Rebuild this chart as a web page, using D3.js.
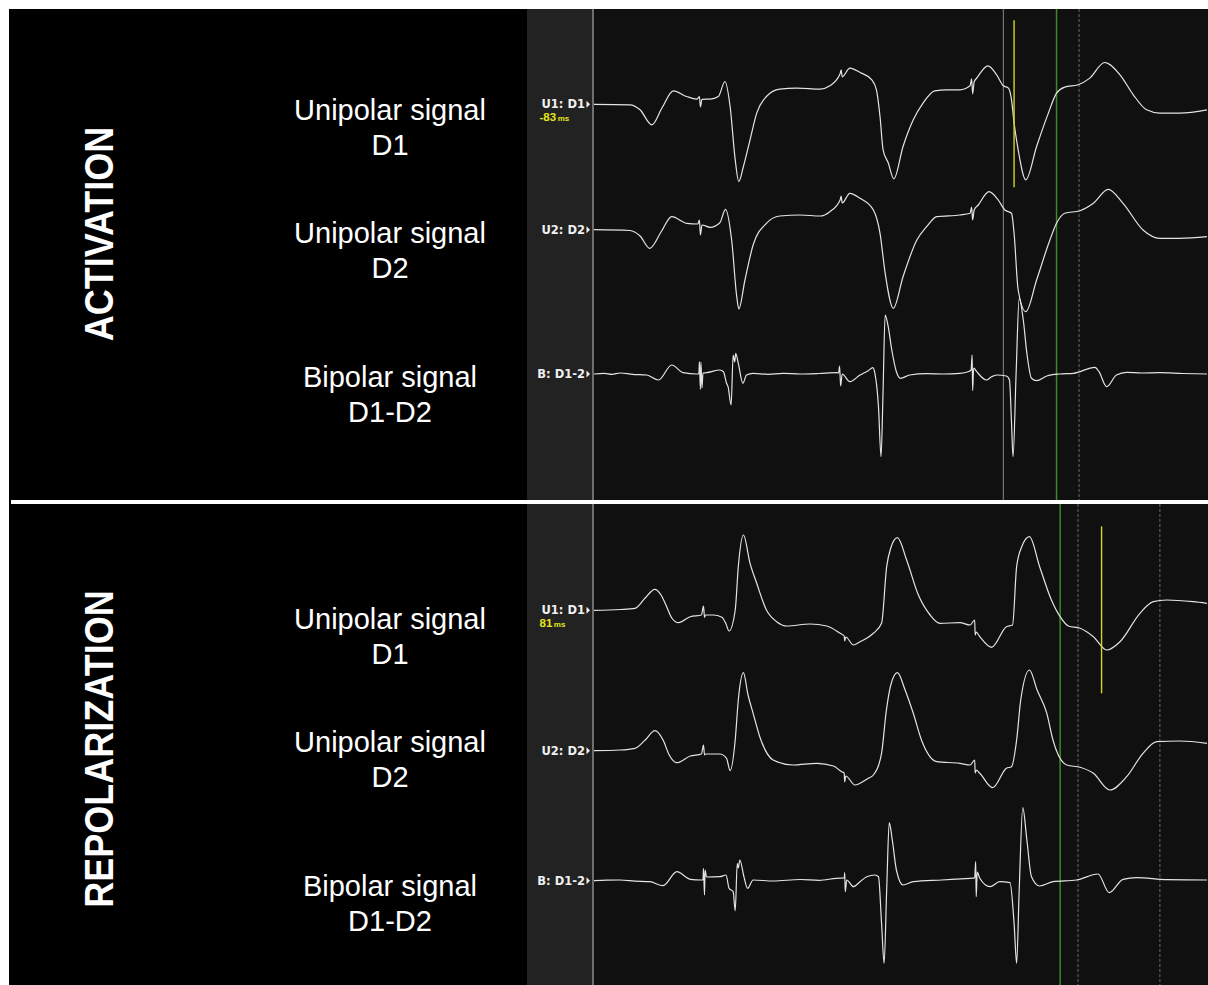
<!DOCTYPE html>
<html>
<head>
<meta charset="utf-8">
<script src="https://cdn.jsdelivr.net/npm/d3@7"></script>
<style>
  html, body { margin: 0; padding: 0; background: #ffffff; }
  svg { display: block; }
</style>
</head>
<body>
<svg id="chart" width="1208" height="985"></svg>
<script>
// ---- Electrogram samples: [time in ms from window start, potential in µV] ----

// Activation window
const actU1 = [[0,0],[70,-10],[90,-110],[113,-410],[133,-70],[155,270],[181,156],[201,104],[206,156],[208,-50],[211,100],[227,104],[243,156],[256,456],[266,-44],[276,-1110],[283,-1544],[292,-1244],[305,-710],[318,-176],[337,156],[363,304],[396,324],[442,304],[461,370],[481,610],[483,690],[485,550],[500,724],[520,636],[543,490],[552,290],[559,-244],[565,-910],[575,-1170],[586,-1490],[604,-844],[624,-310],[643,24],[666,270],[689,290],[715,290],[735,370],[738,510],[740,210],[743,450],[748,524],[770,770],[787,590],[800,370],[810,324],[816,90],[821,-370],[829,-910],[844,-1510],[865,-844],[888,-176],[904,224],[920,344],[946,390],[969,524],[998,836],[1028,590],[1054,190],[1080,-110],[1106,-176],[1145,-176],[1198,-110]];

const actU2 = [[0,0],[70,-16],[90,-126],[109,-372],[131,-46],[152,260],[181,128],[203,114],[206,194],[208,-106],[211,94],[227,48],[246,140],[257,408],[269,-206],[279,-1340],[283,-1586],[295,-1006],[311,-306],[337,128],[363,274],[403,294],[442,274],[461,360],[481,594],[483,674],[485,534],[500,728],[520,628],[546,394],[559,-72],[569,-866],[585,-1572],[604,-940],[631,-206],[650,60],[670,260],[715,294],[735,328],[738,454],[740,194],[743,394],[751,494],[772,760],[790,594],[803,394],[816,328],[821,-72],[829,-1206],[844,-1640],[865,-1006],[891,-206],[904,128],[920,328],[950,380],[976,528],[1005,808],[1034,528],[1073,-6],[1106,-172],[1145,-172],[1198,-140]];

const actB = [[0,0],[20,12],[35,-8],[51,20],[75,-6],[103,-20],[126,-120],[152,180],[174,26],[201,0],[205,0],[206,246],[208,-306],[209,240],[211,-280],[213,20],[220,26],[246,80],[253,46],[259,-186],[262,-254],[268,-620],[272,380],[275,240],[277,414],[282,214],[291,-186],[298,-20],[311,14],[340,-6],[370,12],[403,0],[440,10],[474,26],[478,20],[480,160],[482,-240],[485,0],[500,-154],[520,-20],[536,66],[545,126],[549,14],[556,-654],[561,-1654],[565,-320],[569,1180],[575,946],[582,480],[591,46],[599,-86],[617,-20],[650,6],[683,0],[715,14],[731,46],[737,80],[739,380],[740,-334],[742,120],[748,46],[767,-120],[777,-54],[787,-20],[806,-40],[812,-120],[816,-980],[819,-1654],[825,20],[831,1514],[839,1080],[846,414],[855,-86],[865,-134],[885,-40],[910,0],[937,14],[979,134],[987,46],[1002,-254],[1021,-20],[1041,34],[1070,20],[1106,26],[1150,10],[1198,0]];

// Repolarization window
const repU1 = [[0,0],[51,16],[80,40],[100,246],[119,420],[131,306],[142,72],[152,-154],[165,-248],[188,-128],[210,-94],[214,86],[216,-140],[218,-94],[233,-94],[250,-140],[258,-274],[264,-414],[276,6],[282,872],[292,1506],[305,940],[318,540],[337,6],[357,-228],[377,-314],[422,-274],[455,-314],[481,-460],[489,-514],[490,-614],[492,-534],[507,-694],[520,-628],[533,-560],[546,-460],[562,-260],[572,872],[580,1246],[593,1452],[611,1006],[634,306],[657,-94],[676,-260],[715,-248],[735,-294],[744,-194],[745,-494],[747,-434],[754,-528],[777,-740],[806,-328],[818,-294],[826,872],[836,1272],[851,1472],[871,872],[894,206],[911,-128],[927,-314],[950,-360],[976,-528],[1002,-794],[1028,-628],[1067,-60],[1093,172],[1119,206],[1171,172],[1198,140]];

const repU2 = [[0,0],[51,14],[80,48],[100,214],[119,400],[135,214],[147,-86],[162,-240],[188,-106],[210,-66],[214,114],[216,-86],[218,-66],[246,-66],[259,-152],[266,-400],[276,214],[282,1014],[292,1560],[301,1114],[311,748],[324,280],[350,-186],[389,-286],[435,-252],[468,-306],[484,-420],[489,-446],[490,-626],[492,-506],[510,-686],[520,-652],[536,-552],[546,-486],[562,-52],[571,774],[580,1314],[593,1560],[608,1214],[624,748],[640,214],[670,-220],[715,-252],[735,-286],[744,-186],[745,-446],[747,-386],[754,-452],[779,-740],[806,-352],[816,-320],[826,214],[834,1014],[851,1614],[866,1214],[885,748],[897,214],[924,-286],[950,-332],[976,-452],[1008,-786],[1041,-520],[1073,-52],[1100,180],[1145,194],[1198,148]];

const repB = [[0,0],[25,10],[51,14],[80,-8],[109,-20],[135,-100],[162,180],[188,28],[210,14],[213,14],[214,248],[216,-286],[217,214],[220,74],[246,80],[258,114],[264,-152],[272,-220],[276,-600],[280,348],[282,254],[285,414],[293,80],[300,-152],[311,14],[350,-6],[403,24],[440,8],[474,48],[489,54],[490,160],[491,-220],[494,14],[507,-120],[520,-20],[533,80],[549,114],[556,80],[562,-852],[567,-1652],[572,-186],[577,1160],[583,814],[591,214],[604,-86],[624,-20],[680,14],[735,48],[744,54],[746,380],[747,-320],[749,174],[754,48],[774,-120],[793,-20],[813,-40],[821,-852],[826,-1652],[831,-186],[838,1460],[846,814],[855,80],[871,-106],[897,-20],[943,14],[985,134],[1007,-240],[1034,28],[1060,60],[1120,20],[1198,14]];

const panelTitles = ["ACTIVATION", "REPOLARIZATION"];
const channelNames = ["U1: D1", "U2: D2", "B: D1-2"];
const rowTitles = [["Unipolar signal", "D1"], ["Unipolar signal", "D2"], ["Bipolar signal", "D1-D2"]];
const panelSeries = [[actU1, actU2, actB], [repU1, repU2, repB]];
const referenceTimes = [904, 911];          // green reference cursor (ms)
const markerValues = [-83, 81];              // annotated interval relative to reference (ms)
const auxCursors = [[800, 948], [946, 1106]]; // grey cursors (ms)

// ---- Layout ----
const svg = d3.select("#chart");
const W = 1208, H = 985;
const traceX0 = 594, traceX1 = 1208;
const stripX0 = 527;
const panels = [
  { y0: 9, y1: 500, baselines: [104.3, 229.7, 374], rowBase: [120, 243, 387], titleY: 234 },
  { y0: 504, y1: 985, baselines: [610.3, 750.7, 880.7], rowBase: [629, 752, 896], titleY: 749 }
];

const x = d3.scaleLinear().domain([0, 1200]).range([traceX0, traceX1]);

svg.append("rect").attr("width", W).attr("height", H).attr("fill", "#ffffff");
svg.append("rect").attr("x", 9).attr("y", 9).attr("width", W - 9).attr("height", H - 9).attr("fill", "#000000");

const line = d3.line().curve(d3.curveMonotoneX);

panels.forEach((p, pi) => {
  const g = svg.append("g");
  const clipId = "clip" + pi;
  svg.append("clipPath").attr("id", clipId)
    .append("rect").attr("x", traceX0).attr("y", p.y0).attr("width", traceX1 - traceX0).attr("height", p.y1 - p.y0);

  // channel label strip and trace area
  g.append("rect").attr("x", stripX0).attr("y", p.y0).attr("width", traceX0 - stripX0).attr("height", p.y1 - p.y0).attr("fill", "#222222");
  g.append("rect").attr("x", traceX0).attr("y", p.y0).attr("width", traceX1 - traceX0).attr("height", p.y1 - p.y0).attr("fill", "#101010");
  g.append("rect").attr("x", traceX0 - 2).attr("y", p.y0).attr("width", 2).attr("height", p.y1 - p.y0).attr("fill", "#6e6e6e");

  // panel title (rotated)
  g.append("text")
    .attr("transform", `translate(113,${p.titleY}) rotate(-90) scale(1,1.12)`)
    .attr("text-anchor", "middle")
    .attr("font-family", "'Liberation Sans', Arial, sans-serif")
    .attr("font-weight", "bold")
    .attr("font-size", 36)
    .attr("fill", "#ffffff")
    .text(panelTitles[pi]);

  // row descriptions
  rowTitles.forEach((rt, ri) => {
    const t = g.append("text")
      .attr("text-anchor", "middle")
      .attr("font-family", "'Liberation Sans', Arial, sans-serif")
      .attr("font-size", 29)
      .attr("fill", "#ffffff");
    t.append("tspan").attr("x", 390).attr("y", p.rowBase[ri]).text(rt[0]);
    t.append("tspan").attr("x", 390).attr("y", p.rowBase[ri] + 35).text(rt[1]);
  });

  const ys = p.baselines.map(b => d3.scaleLinear().domain([-2000, 2000]).range([b + 100, b - 100]));

  // cursors
  const cg = g.append("g").attr("clip-path", `url(#${clipId})`);
  auxCursors[pi].forEach((t, ci) => {
    const solid = pi === 0 && ci === 0;
    cg.append("line")
      .attr("x1", x(t)).attr("x2", x(t)).attr("y1", p.y0).attr("y2", p.y1)
      .attr("stroke", solid ? "#8a8a8a" : "#6a6a6a")
      .attr("stroke-width", 1)
      .attr("stroke-dasharray", solid ? null : "3,2");
  });
  cg.append("line")
    .attr("x1", x(referenceTimes[pi])).attr("x2", x(referenceTimes[pi]))
    .attr("y1", p.y0).attr("y2", p.y1)
    .attr("stroke", "#3c8a22").attr("stroke-width", 1.5);

  // traces
  panelSeries[pi].forEach((series, si) => {
    const yS = ys[si];
    cg.append("path")
      .datum(series)
      .attr("d", line.x(d => x(d[0])).y(d => yS(d[1])))
      .attr("fill", "none")
      .attr("stroke", "#e4e4e4")
      .attr("stroke-width", 1.2)
      .attr("stroke-linejoin", "round");
  });

  // annotation cursor on U1
  const markT = referenceTimes[pi] + markerValues[pi];
  cg.append("line")
    .attr("x1", x(markT)).attr("x2", x(markT))
    .attr("y1", ys[0](1680)).attr("y2", ys[0](-1660))
    .attr("stroke", "#d6d61e").attr("stroke-width", 1.4);

  // channel labels
  p.baselines.forEach((b, ci) => {
    g.append("text")
      .attr("x", 585).attr("y", b + 4)
      .attr("text-anchor", "end")
      .attr("font-family", "'DejaVu Sans', sans-serif")
      .attr("font-weight", "bold")
      .attr("font-size", 11.5)
      .attr("fill", "#f0f0f0")
      .text(channelNames[ci]);
    g.append("path")
      .attr("d", `M586.5,${b - 3.5}L590,${b}L586.5,${b + 3.5}Z`)
      .attr("fill", "#f0f0f0");
  });

  // annotated value
  const vt = g.append("text")
    .attr("x", 539.5).attr("y", p.baselines[0] + 16.4)
    .attr("font-family", "'Liberation Sans', Arial, sans-serif")
    .attr("font-weight", "bold")
    .attr("fill", "#e6e61a");
  vt.append("tspan").attr("font-size", 11.5).text(String(markerValues[pi]));
  vt.append("tspan").attr("dx", 1.5).attr("font-size", 8).text("ms");
});

// separator between the two panels
svg.append("rect").attr("x", 11).attr("y", 500).attr("width", W - 11).attr("height", 4).attr("fill", "#ffffff");
</script>
</body>
</html>
